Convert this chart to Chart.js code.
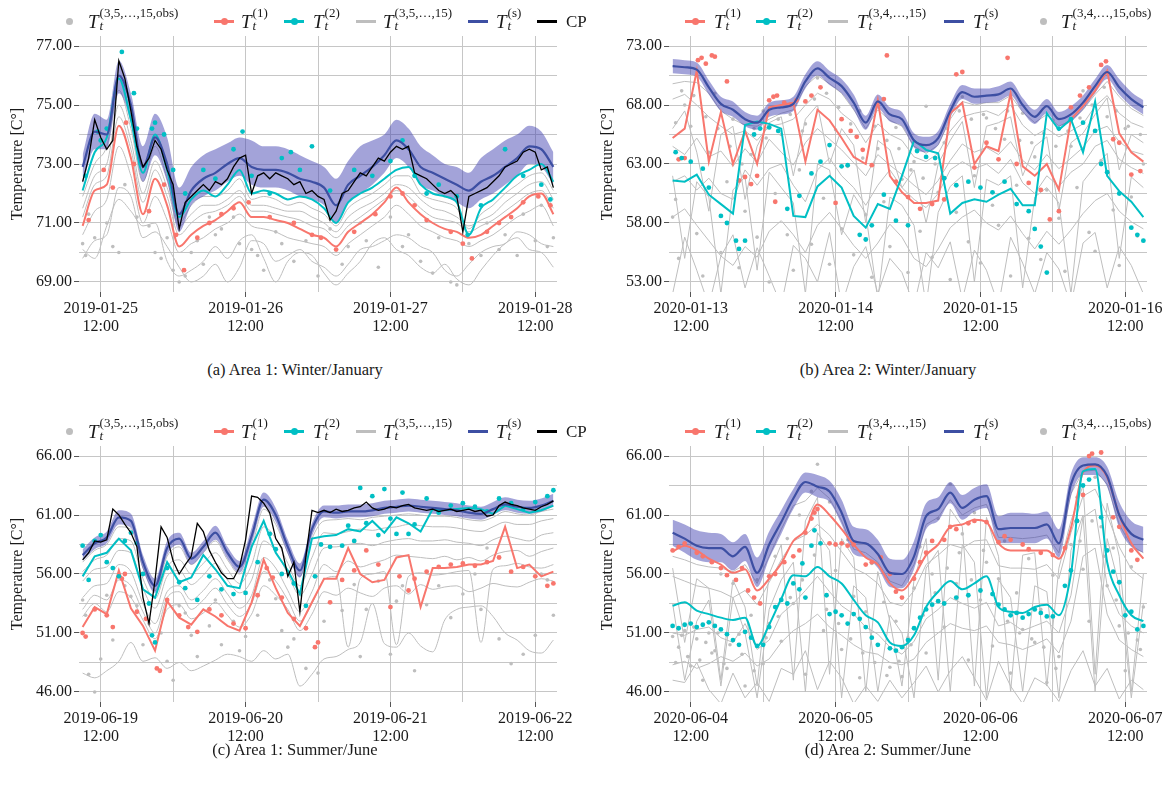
<!DOCTYPE html>
<html>
<head>
<meta charset="utf-8">
<script src="https://cdn.jsdelivr.net/npm/chart.js@4.4.1/dist/chart.umd.min.js"></script>
<style>
  html, body { margin: 0; padding: 0; background: #fff; }
  #page { position: relative; width: 1169px; height: 791px; overflow: hidden; font-family: 'Liberation Serif', 'DejaVu Serif', serif; color: #1a1a1a; }
  canvas { position: absolute; }
  .lg { position: absolute; height: 36px; z-index: 2; }
  .key { position: absolute; height: 3px; width: 20px; top: 20px; }
  .kdot { position: absolute; width: 7px; height: 7px; border-radius: 50%; top: 18px; }
  .lab { position: absolute; top: 6px; display: flex; align-items: flex-start; white-space: nowrap; }
  .lab .T { font-style: italic; font-size: 19px; line-height: 19px; margin-top: 6px; }
  .lab .st { display: flex; flex-direction: column; font-size: 13px; line-height: 13px; margin-left: 1px; }
  .lab .st i { font-size: 13px; }
  .lab .cp { font-size: 17px; line-height: 18px; margin-top: 7px; }
  .cap { position: absolute; font-size: 16.5px; line-height: 18px; text-align: center; width: 590px; }
</style>
</head>
<body>
<div id="page">
  <canvas id="cA" width="590" height="360" style="left:0;top:0"></canvas>
  <canvas id="cB" width="579" height="360" style="left:590px;top:0"></canvas>
  <canvas id="cC" width="590" height="360" style="left:0;top:410px"></canvas>
  <canvas id="cD" width="579" height="360" style="left:590px;top:410px"></canvas>
  <div class="lg" id="lgA" style="left:0;top:0"></div>
  <div class="lg" id="lgB" style="left:590px;top:0"></div>
  <div class="lg" id="lgC" style="left:0;top:410px"></div>
  <div class="lg" id="lgD" style="left:590px;top:410px"></div>
  <div class="cap" style="left:0;top:361px">(a) Area 1: Winter/January</div>
  <div class="cap" style="left:593px;top:361px">(b) Area 2: Winter/January</div>
  <div class="cap" style="left:0;top:741px">(c) Area 1: Summer/June</div>
  <div class="cap" style="left:593px;top:741px">(d) Area 2: Summer/June</div>
</div>
<script>
// hours since midnight of the first day shown in each panel
const HOURS = [9,11,13,15,17,19,21,23,25,27,29,31,33,35,37,39,41,43,45,47,49,51,53,55,57,59,61,63,65,67,69,71,73,75,77,79,81,83,85,87];
const HOURS_1H = [9,10,11,12,13,14,15,16,17,18,19,20,21,22,23,24,25,26,27,28,29,30,31,32,33,34,35,36,37,38,39,40,41,42,43,44,45,46,47,48,49,50,51,52,53,54,55,56,57,58,59,60,61,62,63,64,65,66,67,68,69,70,71,72,73,74,75,76,77,78,79,80,81,82,83,84,85,86,87];
const X_GRID = [12,24,36,48,60,72,84];
const TICK_HOURS = [12,36,60,84];

const A_DATES = ['2019-01-25','2019-01-26','2019-01-27','2019-01-28'];
const B_DATES = ['2020-01-13','2020-01-14','2020-01-15','2020-01-16'];
const C_DATES = ['2019-06-19','2019-06-20','2019-06-21','2019-06-22'];
const D_DATES = ['2020-06-04','2020-06-05','2020-06-06','2020-06-07'];

const A_YGRID = [69,70,71,72,73,74,75,76,77];
const A_YLABELS = [69,71,73,75,77];
const B_YGRID = [53,55.5,58,60.5,63,65.5,68,70.5,73];
const B_YLABELS = [53,58,63,68,73];
const CD_YGRID = [46,48.5,51,53.5,56,58.5,61,63.5,66];
const CD_YLABELS = [46,51,56,61,66];

// ---- (a) Area 1 winter ----
const A_CP = [72.4,73.2,74.5,73.9,73.5,73.8,76.5,75.9,74.8,73.6,72.9,73.2,73.8,73.5,72.8,72.3,70.8,71.7,71.9,72.1,72.3,72.1,72.4,72.3,72.5,72.9,73.2,73.3,72.0,72.6,72.7,72.5,72.7,72.6,72.5,72.3,72.4,72.0,72.1,71.9,71.8,71.1,71.4,72.0,72.1,72.4,72.7,72.6,72.9,73.2,73.1,73.4,73.6,73.5,73.6,72.7,72.6,72.5,72.3,72.1,72.0,72.1,71.9,70.7,71.9,72.0,72.1,72.2,72.4,72.6,72.9,73.0,73.1,73.4,73.5,73.4,72.8,72.9,72.2];
const A_TS = [72.9,74.1,74.0,76.0,75.0,72.9,73.9,73.0,71.3,72.1,72.5,72.7,73.0,73.2,72.9,72.8,72.8,72.7,72.5,72.4,72.2,71.6,72.3,72.6,72.9,73.3,73.8,73.5,72.9,72.7,72.5,72.3,72.1,72.4,72.6,72.9,73.2,73.6,73.5,72.9];
const A_HI = [73.3,74.7,74.5,76.5,75.4,73.6,74.7,73.9,72.2,72.9,73.3,73.5,73.7,73.9,73.8,73.6,73.6,73.5,73.3,73.1,72.9,72.5,73.1,73.6,73.8,74.0,74.5,74.2,73.6,73.3,73.0,72.9,72.7,73.2,73.5,73.8,74.0,74.3,74.1,73.4];
const A_LO = [72.3,73.5,73.5,75.4,74.4,72.4,73.3,72.4,70.7,71.6,71.9,72.1,72.4,72.6,72.3,72.2,72.2,72.1,71.9,71.8,71.6,71.0,71.7,72.0,72.3,72.7,73.2,72.9,72.3,72.1,71.9,71.7,71.5,71.8,72.0,72.3,72.6,73.0,72.9,72.3];
const A_T2 = [72.1,73.4,73.9,75.9,74.5,72.7,74.0,72.8,71.2,71.8,72.1,71.9,72.3,72.8,72.0,72.1,72.0,71.8,71.9,71.8,71.5,71.0,71.7,72.0,72.2,72.5,72.8,72.9,72.3,72.0,71.9,71.7,70.6,71.5,71.8,72.2,72.6,72.8,73.0,72.4];
const A_T1 = [70.9,72.1,72.3,74.3,73.2,71.3,72.5,71.6,70.2,70.6,70.9,71.1,71.4,71.7,71.2,71.2,71.1,71.0,70.8,70.6,70.5,70.2,70.7,71.0,71.3,71.7,72.2,71.7,71.3,71.0,70.8,70.7,70.5,70.6,70.9,71.2,71.5,71.9,72.0,71.3];
const A_GREY_LINES = [
  [71.9,73.0,73.6,75.5,74.2,72.4,73.6,72.5,71.0,71.6,71.9,71.9,72.1,72.5,71.8,71.9,71.8,71.6,71.7,71.5,71.3,70.9,71.5,71.8,72.0,72.3,72.6,72.6,72.0,71.8,71.7,71.5,70.8,71.3,71.6,72.0,72.3,72.6,72.7,72.1],
  [71.5,72.6,73.0,75.0,73.8,72.0,73.1,72.2,70.9,71.3,71.6,71.6,71.8,72.1,71.6,71.6,71.5,71.4,71.4,71.2,71.0,70.7,71.2,71.5,71.7,72.0,72.3,72.2,71.8,71.5,71.4,71.2,70.9,71.1,71.3,71.7,72.0,72.3,72.4,71.8],
  [71.2,72.3,72.6,74.6,73.5,71.7,72.8,71.9,70.6,71.0,71.3,71.4,71.6,71.9,71.4,71.4,71.3,71.2,71.1,70.9,70.8,70.5,70.9,71.2,71.5,71.8,72.1,71.9,71.5,71.2,71.1,71.0,70.7,70.9,71.1,71.4,71.7,72.0,72.1,71.5],
  [70.6,71.4,71.8,73.6,72.6,71.0,71.9,71.1,70.0,70.3,70.5,70.8,71.0,71.3,70.9,70.8,70.7,70.5,70.4,70.3,70.2,69.9,70.3,70.6,70.9,71.2,71.6,71.3,70.9,70.7,70.5,70.4,70.2,70.4,70.6,70.9,71.2,71.4,71.6,70.9],
  [70.1,69.8,70.9,71.8,71.4,70.9,71.0,69.7,69.2,69.4,69.7,70.2,69.8,70.4,70.6,69.8,69.0,69.7,70.0,69.9,69.3,68.9,69.3,69.7,70.3,70.5,70.1,69.9,69.5,69.3,69.6,69.1,68.9,69.4,69.9,70.3,70.5,70.1,70.0,69.5],
  [69.8,70.4,70.6,72.2,71.9,70.5,70.7,70.2,69.5,69.0,69.2,69.6,69.0,69.5,70.4,70.3,69.7,69.9,70.1,69.7,69.5,69.2,69.6,70.1,70.2,70.4,70.6,70.5,70.2,70.0,69.4,69.2,69.6,70.0,70.2,70.3,70.7,70.6,70.3,70.2]
];
const A_T1_OBS = [[10,71.1],[12.5,72.8],[14,72.2],[16.2,74.4],[17.5,73.0],[20,71.4],[22.5,72.3],[24.5,70.6],[25.8,69.4],[28,70.5],[30,71.0],[32,71.3],[34,71.5],[36.5,71.7],[40,71.2],[44,71.0],[47,70.6],[48.5,70.5],[51,70.1],[54,70.7],[57.5,71.3],[60,71.9],[62,72.0],[64,71.6],[66,71.1],[70,70.7],[72,70.3],[73.5,69.8],[76,70.7],[78,71.0],[80,71.2],[82,71.7],[84.5,71.9],[86.5,71.6]];
const A_T2_OBS = [[9.5,72.6],[11.5,74.1],[12,73.8],[13,74.2],[15.5,76.8],[17.5,75.4],[18,74.2],[20.5,74.2],[21,74.4],[22.5,74.0],[24,72.8],[26,72.0],[29,72.8],[31,72.5],[34,73.5],[35.5,74.1],[37,72.6],[40,72.0],[42,73.2],[43.5,73.4],[45,72.8],[47,73.6],[50,72.1],[54,72.8],[57,72.6],[60,73.1],[62,73.8],[64,72.6],[66,72.0],[68,72.3],[71,71.9],[72.8,70.6],[75,71.6],[79,73.5],[82,72.6],[85,72.3],[86.5,71.8]];
const A_GREY_OBS = [[9,70.3],[9.5,69.9],[10,71.3],[11,70.5],[13,71.0],[14,70.2],[15,70.0],[16,72.3],[18,71.2],[20,70.9],[21,70.0],[22,69.8],[23,70.5],[24,69.4],[25,69.0],[26,69.2],[27,70.0],[28,70.4],[29,69.6],[30,71.2],[31,70.6],[32,70.8],[34,71.2],[35,70.3],[37,70.1],[38,69.9],[39,69.4],[41,70.7],[42,70.3],[44,69.7],[46,70.4],[48,69.2],[50,70.8],[52,69.6],[53,70.2],[55,71.0],[56,70.4],[58,69.5],[60,71.2],[62,70.2],[63,70.6],[65,69.7],[67,69.3],[68,70.5],[70,69.0],[71,68.9],[73,70.3],[75,69.9],[76,71.0],[78,70.1],[79,70.6],[81,69.9],[82,71.3],[84,70.4],[85,71.6],[86,70.2],[87,70.5]];

// ---- (b) Area 2 winter ----
const B_TS = [71.3,71.2,71.0,69.5,68.1,67.6,66.8,66.5,67.6,67.8,68.1,70.0,71.1,70.3,69.6,68.2,66.5,68.3,67.2,66.8,65.0,64.6,65.2,67.5,69.1,68.7,68.8,68.9,69.4,68.0,67.0,67.9,66.8,67.2,68.2,69.6,70.8,69.5,68.5,67.8];
const B_HI = [71.9,71.8,71.6,70.1,68.7,68.3,67.4,67.1,68.2,68.4,68.7,70.6,71.7,70.9,70.2,68.9,67.1,68.9,67.8,67.4,65.6,65.3,65.8,68.1,69.7,69.4,69.4,69.6,70.0,68.6,67.6,68.5,67.4,67.9,68.8,70.2,71.4,70.2,69.1,68.4];
const B_LO = [70.7,70.6,70.4,68.9,67.5,67.0,66.2,65.9,67.0,67.2,67.5,69.4,70.5,69.7,69.0,67.6,65.9,67.7,66.6,66.2,64.4,64.0,64.6,66.9,68.5,68.1,68.2,68.3,68.8,67.4,66.4,67.3,66.2,66.6,67.6,69.0,70.2,68.9,67.9,67.2];
const B_T1 = [65.2,66.0,70.9,63.2,67.4,63.0,65.8,63.0,67.8,68.0,68.2,63.2,67.6,66.7,65.2,63.6,63.0,68.4,62.0,60.6,59.7,59.7,59.9,67.3,68.2,63.0,64.5,64.1,69.0,62.8,62.0,63.0,60.8,66.8,67.9,69.2,70.9,65.6,64.0,63.2];
const B_T2 = [61.6,61.5,62.1,60.4,59.6,58.8,66.3,66.6,66.4,66.0,58.6,58.5,61.1,62.0,61.0,58.6,57.6,59.6,59.2,62.0,65.0,64.2,63.9,58.8,59.7,60.0,59.8,60.4,60.9,59.5,59.5,67.3,65.9,66.8,64.0,68.3,62.0,60.7,59.8,58.5];
const B_GREY_LINES = [
  [69.8,70.0,69.9,69.0,67.5,66.8,66.3,66.2,66.8,67.3,67.6,69.6,70.5,69.8,69.0,67.6,66.0,67.6,66.7,66.2,64.5,63.9,64.6,66.8,68.3,68.0,68.2,68.2,68.8,67.4,66.5,67.2,66.2,66.7,67.6,68.9,70.0,68.7,67.7,67.1],
  [68.5,68.9,68.0,67.0,66.2,65.5,65.8,65.0,66.2,66.4,66.8,68.0,69.0,68.5,67.3,66.5,64.8,66.4,65.5,65.0,63.6,63.2,63.9,65.8,67.0,67.3,67.5,67.1,68.0,66.3,65.4,66.0,65.3,65.8,66.4,67.9,68.8,67.3,66.5,66.1],
  [64.5,63.8,65.2,63.6,64.1,62.8,64.3,63.1,65.1,64.0,62.9,64.8,66.0,65.1,64.2,63.1,62.0,63.8,62.9,62.1,61.2,60.4,61.6,63.3,64.7,64.0,64.4,63.8,64.9,63.3,62.5,63.8,62.6,63.5,64.4,65.8,66.2,64.9,64.1,63.8],
  [62.0,55.0,61.5,60.2,52.0,60.8,61.9,54.0,62.3,61.0,59.7,52.0,63.0,62.5,57.0,60.4,58.8,51.5,60.2,59.5,57.8,51.0,58.9,61.1,62.0,53.0,61.7,61.2,62.0,52.5,60.2,61.0,59.7,52.0,61.5,62.8,63.9,55.0,61.9,61.0],
  [58.5,59.2,57.8,56.5,55.2,54.4,56.0,55.1,57.3,58.2,57.0,55.5,57.8,58.9,57.5,56.1,55.0,56.3,57.9,56.8,55.0,54.3,55.8,57.6,58.5,59.1,58.0,57.4,58.6,57.1,55.8,57.3,56.2,57.4,58.8,59.9,60.5,59.0,58.1,57.5],
  [52.0,56.8,54.0,51.0,55.2,57.0,52.5,55.9,53.5,51.0,56.1,55.0,53.0,57.2,51.0,54.3,56.0,52.0,55.0,53.8,51.0,55.5,54.2,56.4,51.5,55.7,54.0,51.0,56.8,54.6,52.0,55.5,54.1,51.0,56.3,57.2,52.5,56.0,54.4,52.0],
  [61.5,62.0,60.8,61.8,60.5,60.0,62.5,61.2,62.6,63.0,61.2,59.8,62.5,63.5,62.0,61.0,59.5,61.2,62.5,61.0,60.0,59.3,60.5,62.5,63.2,62.6,63.0,62.2,63.4,61.4,60.5,62.0,61.1,62.3,63.0,64.5,65.0,63.4,62.7,62.2],
  [66.0,67.5,64.0,59.0,65.5,66.2,60.0,64.5,66.5,67.0,62.0,66.8,68.0,63.0,66.0,64.6,58.0,65.0,64.2,61.0,62.5,58.0,63.0,65.0,66.6,61.0,66.2,66.5,67.0,62.0,64.5,65.3,59.0,64.8,65.6,67.2,68.6,62.5,65.5,64.8]
];
const B_T1_OBS = [[10,63.4],[11,63.5],[13.2,71.8],[13.8,72.0],[14.5,71.5],[15.5,72.2],[16,72.1],[18,70.0],[20,61.6],[21,61.9],[22,61.3],[23,62.0],[25,68.4],[25.7,68.7],[26.3,68.8],[27.5,68.2],[28.5,68.0],[29.5,68.4],[31,68.3],[32,68.8],[26,59.8],[33.5,69.5],[36,59.7],[37,66.8],[38.5,65.8],[39.5,65.3],[40.5,64.2],[42,62.9],[44,68.5],[44.5,72.2],[46,61.5],[48,60.2],[50,59.2],[52,59.6],[54,60.0],[56,70.6],[57,70.8],[59,62.7],[61,64.8],[63,63.4],[64.5,72.0],[66,63.0],[68,61.4],[70,60.8],[71.5,58.3],[73,59.0],[75,67.8],[76.5,68.8],[78,69.5],[80,71.4],[80.8,71.7],[82,65.1],[83,64.8],[85,62.1],[86.5,62.4]];
const B_T2_OBS = [[9.5,64.0],[10.5,63.5],[12,63.2],[14,62.6],[15,61.0],[17,58.6],[18,58.0],[19.5,56.5],[20,55.8],[21,56.5],[22.5,65.5],[23.5,66.0],[25,66.1],[26.5,65.8],[28,59.2],[30,60.3],[32,62.2],[33.5,63.2],[35,64.6],[37,62.8],[38,62.9],[40,57.0],[41,56.6],[42,57.8],[44,60.4],[46,58.2],[48,57.8],[49.5,64.1],[51,63.6],[52.5,63.5],[54,61.8],[56,61.2],[58,61.5],[60,61.0],[62,60.6],[64,61.5],[66,59.6],[68,59.0],[69,57.5],[70,56.0],[71,53.8],[73,66.0],[75,66.8],[77,66.5],[79,65.8],[80,63.0],[81,62.3],[83,60.5],[85,57.6],[86,57.0],[87,56.5]];
const B_GREY_OBS = [[9,58.5],[9.5,60.0],[10,55.0],[11,68.0],[12,66.2],[13,57.1],[14,53.5],[15,64.0],[16,69.0],[17,55.5],[18,61.5],[19,66.8],[20,54.2],[21,59.0],[22,63.8],[23,56.8],[24,67.5],[25,53.0],[26,60.5],[27,65.5],[28,57.0],[29,54.0],[30,62.5],[31,66.4],[32,56.2],[33,70.3],[34,60.1],[35,54.5],[36,65.9],[37,57.5],[38,62.8],[39,55.3],[40,67.5],[41,58.7],[42,53.4],[43,64.3],[44,59.8],[45,56.0],[46,66.1],[47,61.7],[48,53.8],[49,63.2],[50,57.3],[51,67.9],[52,55.1],[53,60.6],[54,64.8],[55,53.2],[56,58.9],[57,68.7],[58,56.4],[59,62.0],[60,54.6],[61,66.9],[62,59.5],[63,57.8],[64,65.1],[65,53.5],[66,61.2],[67,67.3],[68,56.7],[69,63.6],[70,54.9],[71,60.8],[72,66.7],[73,58.4],[74,53.9],[75,64.5],[76,61.0],[77,69.2],[78,57.2],[79,55.6],[80,63.3],[81,67.0],[82,59.1],[83,54.4],[84,66.0],[85,60.2],[86,56.9],[87,63.0],
  [9.5,66.5],[10.5,69.2],[12.5,68.8],[14.5,67.0],[16.5,66.0],[18.5,64.5],[20.5,63.0],[22.5,66.0],[24.5,65.2],[26.5,66.8],[28.5,67.2],[30.5,65.8],[32.5,68.5],[34.5,69.0],[36.5,67.8],[38.5,66.4],[40.5,63.5],[42.5,66.2],[44.5,65.0],[46.5,64.3],[48.5,62.5],[50.5,61.8],[52.5,63.0],[54.5,66.0],[56.5,67.5],[58.5,66.8],[60.5,67.2],[62.5,66.0],[64.5,67.5],[66.5,65.0],[68.5,64.8],[70.5,65.6],[72.5,64.5],[74.5,65.8],[76.5,66.9],[78.5,68.0],[80.5,69.5],[82.5,67.5],[84.5,66.2],[86.5,65.5]];

// ---- (c) Area 1 summer ----
const C_CP = [57.2,57.8,58.8,58.7,58.9,61.5,61.0,60.2,59.5,58.3,54.0,51.8,55.5,60.0,59.1,57.1,56.0,56.8,57.5,60.3,59.6,58.0,57.0,56.1,55.6,55.6,56.6,58.9,62.6,62.5,62.0,61.2,59.0,58.2,55.8,57.0,52.8,57.5,61.4,61.2,61.4,61.2,61.5,61.3,61.4,61.6,61.7,62.1,61.6,61.4,61.5,61.7,61.6,61.8,61.9,61.6,61.5,61.4,61.5,61.3,61.4,61.5,61.3,61.4,61.5,61.3,61.4,60.9,61.0,61.8,62.1,61.9,61.8,61.6,61.5,61.4,61.7,61.9,62.2];
const C_TS = [57.6,58.6,59.1,60.8,60.5,57.0,55.0,58.2,59.0,57.3,58.3,59.5,57.8,56.6,59.2,62.3,61.0,58.3,56.3,59.8,61.3,61.2,61.3,61.3,61.4,61.6,61.7,61.8,61.7,61.6,61.5,61.4,61.2,61.1,61.5,61.9,61.7,61.6,61.8,62.2];
const C_HI = [58.1,59.1,59.6,61.4,61.1,57.6,55.6,58.8,59.5,57.8,58.8,60.1,58.3,57.1,59.9,62.9,61.6,58.9,56.9,60.3,61.8,61.8,61.9,61.9,62.0,62.2,62.3,62.4,62.3,62.2,62.1,62.0,61.8,61.7,62.1,62.5,62.3,62.2,62.4,62.8];
const C_LO = [57.1,58.1,58.6,60.2,59.9,56.4,54.4,57.6,58.5,56.8,57.8,58.9,57.3,56.1,58.5,61.7,60.4,57.7,55.7,59.2,60.8,60.7,60.8,60.8,60.9,61.1,61.2,61.3,61.2,61.1,61.0,60.9,60.7,60.6,61.0,61.4,61.2,61.1,61.3,61.7];
const C_T2 = [55.8,57.5,57.8,59.0,58.0,54.7,54.0,57.0,55.3,55.7,57.6,56.4,55.0,54.8,58.3,60.5,57.8,56.3,54.3,59.0,59.2,59.3,59.8,59.6,60.5,59.5,60.8,60.3,59.6,61.5,61.4,61.5,61.6,61.5,61.1,61.8,61.5,61.2,61.4,61.8];
const C_T1 = [51.5,53.2,52.6,56.3,53.1,51.6,49.5,53.7,52.3,51.7,53.0,52.4,51.6,51.2,53.6,57.2,54.8,52.7,51.6,53.6,55.6,55.6,58.2,56.0,55.3,55.5,57.4,57.6,53.2,56.5,56.5,56.6,56.8,56.8,57.1,60.0,56.5,56.8,55.8,56.2];
const C_GREY_LINES = [
  [57.0,58.0,58.5,60.0,59.8,56.5,54.6,57.5,58.3,56.8,57.8,58.8,57.2,56.0,58.2,61.5,60.2,57.8,55.8,59.0,60.5,60.6,60.7,60.6,60.8,60.9,61.0,61.1,61.0,60.9,60.9,60.8,60.6,60.5,60.8,61.3,61.1,61.0,61.3,61.5],
  [56.2,57.2,57.6,59.0,58.8,55.6,53.9,56.6,57.2,56.0,56.9,57.8,56.4,55.2,56.8,60.0,59.0,56.9,55.0,57.4,59.5,59.4,59.6,59.8,59.7,59.9,60.0,60.2,60.1,60.0,60.0,59.9,59.7,59.6,60.0,60.4,60.2,60.2,60.5,60.7],
  [55.4,56.4,56.6,58.0,57.8,54.8,53.1,55.8,56.3,55.1,55.9,56.9,55.5,54.4,55.5,58.8,57.9,56.0,54.2,56.0,58.2,58.3,58.5,58.6,58.4,58.7,58.9,59.0,58.8,58.8,58.9,58.7,58.6,58.4,58.9,59.2,59.0,58.8,59.3,59.5],
  [54.0,55.0,55.2,56.8,56.2,53.5,51.8,54.5,55.0,53.8,54.6,55.6,54.3,53.1,54.2,57.4,56.5,54.6,52.8,54.5,56.8,56.2,57.1,56.6,56.9,57.2,57.6,57.5,57.4,57.3,57.5,57.2,57.4,57.1,57.6,57.9,58.0,57.5,57.9,58.2],
  [52.4,53.5,52.8,54.5,54.0,52.1,50.5,53.0,53.4,52.2,52.7,53.6,52.5,51.5,52.6,55.0,54.2,53.0,51.2,52.6,54.5,54.2,54.8,54.4,54.1,54.8,55.0,54.3,55.1,54.7,54.9,55.0,54.5,54.8,55.2,55.0,54.9,55.3,55.6,55.4],
  [47.6,47.2,47.8,48.6,50.2,48.6,48.9,48.0,48.5,47.8,48.2,48.7,49.2,49.0,48.6,49.5,48.8,49.2,46.5,47.5,48.8,49.0,49.6,50.2,53.5,50.1,49.8,51.0,49.9,49.4,52.1,53.0,53.2,53.3,52.4,51.0,50.4,49.5,49.3,50.4],
  [53.0,54.2,53.8,55.5,55.0,52.8,51.0,54.0,54.5,53.0,53.8,54.8,53.4,52.4,53.5,56.2,55.4,53.8,52.0,53.5,55.5,55.8,49.8,55.6,56.0,56.2,50.0,55.8,56.1,55.9,56.0,56.2,56.3,50.2,56.4,56.7,56.9,56.6,56.5,56.8]
];
const C_T1_OBS = [[9,51.0],[9.5,50.7],[11,53.0],[13,52.5],[14,51.5],[15.5,55.6],[16,56.0],[18,52.8],[19.5,52.2],[21.3,48.0],[21.8,47.8],[23,53.8],[25,52.5],[26.5,51.5],[28,51.1],[30,53.0],[32,52.5],[34,51.8],[36,51.4],[38,54.2],[39.5,56.5],[40.5,55.7],[42,54.0],[44,52.2],[46,51.4],[47.5,49.8],[48,50.2],[50,53.6],[52,55.5],[54,56.3],[56,58.0],[58,56.8],[60,53.2],[61.5,55.8],[63,54.6],[64,55.6],[66,56.2],[68,56.6],[70,56.8],[72,56.9],[74,56.7],[76,57.0],[78,57.4],[80,56.2],[82,56.6],[84,55.8],[86,55.0],[87,55.2]];
const C_T2_OBS = [[9,58.4],[10,55.5],[11,58.8],[12,59.3],[13,57.0],[14,56.5],[15,55.8],[16,58.8],[17,59.5],[18,58.6],[19,56.0],[20,53.5],[20.5,50.8],[21,50.2],[23,56.5],[25,55.3],[26,54.8],[28,53.8],[30,55.8],[32,54.7],[34,54.3],[36,54.4],[38,57.0],[40,59.4],[41,58.1],[42,56.0],[44,55.2],[46,53.3],[47.5,55.8],[48.5,58.5],[50,58.3],[52,58.4],[53,60.1],[54,58.8],[55,63.3],[56,60.3],[57,62.6],[58,59.3],[59,63.2],[60,60.7],[61,59.4],[62,62.9],[63,59.4],[64,60.2],[66,62.4],[68,61.2],[70,61.8],[72,62.0],[74,61.7],[76,61.3],[78,62.4],[80,62.0],[82,61.5],[84,62.1],[86,62.6],[87,63.1]];
const C_GREY_OBS = [[9,53.8],[9.5,52.5],[10,47.5],[11,46.0],[12,48.8],[13,54.2],[14,50.4],[16,55.0],[17,54.1],[18,53.3],[19,50.0],[20,51.8],[22,51.0],[23,48.6],[24,47.0],[25,53.3],[26,52.7],[27,50.8],[28,49.0],[30,51.6],[31,53.8],[32,50.0],[34,52.0],[35,49.5],[36,50.7],[38,52.5],[40,55.5],[41,53.9],[42,51.2],[43,49.8],[44,50.5],[46,48.0],[48,47.6],[49,52.0],[50,53.6],[52,52.9],[54,55.1],[55,49.0],[56,53.0],[58,55.4],[60,49.2],[61,53.7],[62,55.0],[64,47.8],[66,53.4],[68,55.0],[70,52.3],[72,54.3],[74,56.0],[75,53.0],[76,58.2],[78,50.5],[80,48.4],[82,49.2],[84,50.8],[85,56.0],[86,55.5],[87,52.5]];

// ---- (d) Area 2 summer ----
const D_TS = [59.5,59.0,58.4,58.2,58.2,57.5,58.3,56.1,58.5,60.4,62.4,63.8,63.4,63.0,61.2,58.8,58.6,57.7,56.1,56.0,57.5,60.9,61.5,62.9,61.6,62.3,62.6,59.8,59.9,59.9,59.9,60.2,58.6,63.6,65.2,65.3,64.3,61.0,59.4,58.9];
const D_HI = [60.6,60.2,59.7,59.5,59.4,58.7,59.4,57.4,59.6,61.4,63.2,64.6,64.4,63.9,62.3,60.0,59.8,58.9,57.3,57.2,58.8,62.0,62.5,63.8,62.7,63.3,63.6,60.9,61.2,61.2,61.1,61.3,59.8,64.5,65.9,65.9,65.1,62.1,60.5,60.0];
const D_LO = [58.4,57.8,57.2,57.0,57.0,56.3,57.1,54.9,57.3,59.4,61.5,62.9,62.5,62.1,60.2,57.7,57.4,56.5,54.9,54.8,56.4,59.8,60.5,62.0,60.6,61.3,61.6,58.6,58.6,58.6,58.6,59.0,57.4,62.6,64.4,64.4,63.4,59.9,58.3,57.8];
const D_T1 = [57.9,58.4,58.0,57.3,56.8,56.1,56.4,54.6,55.6,56.9,58.8,59.7,61.9,61.0,59.8,58.5,57.4,56.8,55.2,54.6,55.8,57.6,58.5,60.0,60.2,60.6,60.4,58.6,58.0,58.0,58.0,58.0,57.3,59.9,64.6,65.2,64.2,61.0,58.6,57.3];
const D_T2 = [53.3,53.6,52.9,52.6,52.3,52.1,52.3,49.9,51.7,53.9,55.9,55.8,56.6,55.8,55.2,53.8,52.5,51.9,50.2,49.9,50.8,53.2,54.5,55.4,54.7,55.2,55.8,53.2,52.8,52.7,53.2,53.4,52.5,56.0,64.7,64.9,57.0,54.2,52.5,52.0];
const D_GREY_LINES = [
  [57.5,57.2,56.8,56.6,56.5,56.2,56.8,55.2,57.5,59.8,61.8,62.2,63.3,62.4,60.5,58.1,57.8,57.0,55.4,55.0,56.8,60.2,60.8,62.3,61.0,61.6,61.9,59.1,59.1,59.0,59.1,59.3,57.8,62.8,64.7,64.8,63.6,60.2,58.4,57.8],
  [55.8,55.4,55.0,54.8,54.5,54.0,54.6,53.4,55.3,57.2,58.8,59.3,60.2,59.3,57.9,56.5,56.0,55.2,53.6,53.3,54.6,56.8,57.6,58.5,58.2,58.8,58.9,56.7,56.5,56.5,56.4,56.8,55.6,59.5,62.6,63.2,61.0,58.3,56.4,55.6],
  [51.0,50.8,51.3,51.5,50.6,50.2,51.8,49.6,50.4,52.6,53.5,54.6,55.8,54.5,53.3,52.6,51.5,50.9,49.8,49.2,50.3,52.2,53.0,54.0,53.5,53.1,53.6,51.6,51.9,51.2,51.6,52.0,51.0,54.2,60.8,61.5,55.0,52.6,51.6,51.0],
  [48.3,48.6,48.0,48.4,49.0,48.6,49.3,48.2,48.8,50.2,51.2,51.8,52.6,51.5,50.8,50.0,49.4,49.2,48.5,48.3,48.8,50.2,51.0,51.8,51.4,51.2,51.6,50.2,50.0,49.6,50.0,50.5,49.3,52.0,57.5,58.2,52.6,50.4,49.6,49.0],
  [56.5,50.2,55.6,54.8,47.0,55.5,53.2,46.5,56.0,58.5,47.0,60.5,62.5,47.5,59.0,57.4,46.0,56.2,52.0,46.5,55.5,59.0,47.0,61.5,60.0,46.5,60.8,57.5,46.0,57.6,57.8,46.5,56.5,60.5,63.5,47.5,62.0,57.5,46.0,56.0],
  [47.0,46.8,48.5,46.2,45.0,47.6,45.5,46.8,45.2,48.0,47.5,49.5,46.2,48.6,47.2,45.0,46.5,45.2,47.0,45.5,46.8,48.2,46.0,47.8,49.0,47.2,45.3,48.6,46.5,45.0,47.2,46.6,45.2,47.8,49.5,46.5,48.0,45.4,47.0,46.2],
  [53.5,47.0,52.0,53.8,46.5,54.0,51.0,45.5,53.0,55.5,57.0,46.0,59.5,58.0,45.5,55.0,54.0,46.0,52.5,51.0,45.5,56.5,58.0,46.0,58.5,57.0,45.5,55.5,54.0,46.0,55.0,54.5,45.5,58.0,61.0,46.0,59.0,55.0,45.5,53.5]
];
const D_T1_OBS = [[9,58.0],[10,58.3],[11,58.6],[13,57.8],[14,57.5],[15.5,57.0],[17,56.5],[18,55.9],[19.5,55.5],[20.5,56.5],[21.5,54.6],[22.5,54.0],[23.5,53.5],[25,55.8],[26,56.0],[27.5,57.0],[29,57.5],[30,58.0],[31,59.5],[32,60.7],[32.5,61.2],[33,61.5],[35,58.6],[36,58.5],[37,58.6],[38,58.4],[39,58.5],[41,56.8],[42,57.0],[43.5,57.4],[45,56.0],[46,54.5],[47,54.0],[49,55.6],[50,57.0],[51,57.8],[52,58.8],[54,58.9],[55,60.0],[56,59.8],[58,60.3],[59,60.5],[61,60.4],[63,58.7],[64,59.2],[65,58.9],[67,58.5],[68,58.1],[70,57.8],[72,57.6],[74,58.2],[76,60.5],[77,62.7],[78,66.0],[78.5,66.2],[80,66.3],[82,60.8],[83,60.0],[85,58.0],[86,57.2]];
const D_T2_OBS = [[9,51.6],[10,51.4],[11,51.7],[12,51.8],[13,51.5],[14,51.7],[15,51.9],[16,51.6],[17,51.3],[18,50.9],[19,50.4],[20,50.0],[21,51.1],[22,50.6],[23,49.9],[24,50.0],[25,51.5],[26,53.2],[27,53.8],[28,53.5],[29,55.2],[30,54.7],[30.5,56.9],[31,54.0],[32,58.4],[32.5,59.7],[33.5,58.6],[34.5,54.2],[35,52.6],[36,52.8],[37,52.5],[38,51.8],[39,52.6],[40,52.2],[41,51.5],[42,50.6],[43,50.0],[45,49.7],[46,49.5],[47,49.8],[48,50.4],[49,51.4],[50,52.3],[51,53.0],[52,53.4],[53,53.7],[54,53.5],[56,54.0],[58,54.2],[60,54.6],[62,54.3],[63,53.4],[64,53.0],[65,52.5],[66,52.7],[67,52.3],[68,52.6],[69,53.0],[70,52.7],[71,52.4],[72,52.4],[74,55.0],[75,56.3],[76,60.5],[77,63.5],[78,64.0],[80,60.8],[81,58.0],[82,56.2],[83,55.3],[84,52.5],[85,52.8],[86,51.3],[87,51.6]];
const D_GREY_OBS = [[9,50.7],[10,49.8],[11,51.2],[12,48.2],[13,50.5],[14,47.0],[15,51.0],[16,49.5],[17,56.0],[18,48.0],[19,55.2],[20,50.9],[21,46.5],[22,52.5],[23,55.5],[24,48.4],[25,51.8],[26,57.5],[27,50.3],[28,59.0],[29,53.5],[30,61.0],[31,47.5],[32,63.0],[33,65.3],[34,51.2],[35,62.1],[36,56.3],[37,49.6],[38,58.9],[39,54.1],[40,47.2],[41,52.8],[42,56.9],[43,50.0],[44,53.6],[45,48.1],[46,52.0],[47,47.3],[48,50.6],[49,54.8],[50,58.3],[51,49.3],[52,56.0],[53,60.7],[54,51.5],[55,63.6],[56,55.2],[57,59.4],[58,48.7],[59,61.2],[60,53.8],[61,57.0],[62,49.9],[63,55.6],[64,58.8],[65,47.6],[66,54.4],[67,51.3],[68,57.3],[69,50.2],[70,53.0],[71,46.8],[72,55.9],[73,49.0],[75,58.5],[76,62.5],[77,56.4],[78,52.0],[79,64.2],[80,60.0],[81,55.0],[82,58.2],[83,51.6],[84,47.8],[85,56.6],[86,50.4],[87,53.2],
  [9.5,48.5],[10.5,50.8],[11.5,49.0],[12.5,51.5],[13.5,48.7],[14.5,50.2],[15.5,49.3],[16.5,51.0],[17.5,48.4],[18.5,50.0],[20.5,49.2],[22.5,47.8],[24.5,50.6],[26.5,52.4],[28.5,54.0],[30.5,55.5],[32.5,57.6],[34.5,53.0],[36.5,51.8],[38.5,50.5],[40.5,49.3],[42.5,48.5],[44.5,47.4],[46.5,48.6],[48.5,50.0],[50.5,52.5],[52.5,54.4],[54.5,56.5],[56.5,57.8],[58.5,55.5],[60.5,58.0],[62.5,53.5],[64.5,52.0],[66.5,51.0],[68.5,50.5],[70.5,49.8],[72.5,48.0],[76.5,58.8],[78.5,60.5],[80.5,57.5],[82.5,53.8],[84.5,51.0],[86.5,49.6]];

// ---------------------------------------------------------------------
const GREY = '#BEBEBE', RED = '#F8766D', TEAL = '#00BFC4', BLUE = '#3D4FA3';
const BAND = 'rgba(62,62,175,0.48)';
const GRID = '#C6C6C6', TICKC = '#555', TXT = '#1a1a1a';
const FONT = "'Liberation Serif', 'DejaVu Serif', serif";

function pts(vals, hours) { return vals.map((v, i) => ({ x: hours[i], y: v })); }
function obs(pairs) { return pairs.map(p => ({ x: p[0], y: p[1] })); }
function line(vals, color, w, smooth, hours) {
  return {
    data: pts(vals, hours || HOURS), borderColor: color, borderWidth: w, pointRadius: 0, fill: false,
    cubicInterpolationMode: smooth ? 'monotone' : 'default'
  };
}
function dots(pairs, color, r) {
  return { data: obs(pairs), showLine: false, pointRadius: r, pointBackgroundColor: color, pointBorderWidth: 0, borderColor: color };
}

function drawPanel(id, p) {
  const sm = p.smooth;
  // first dataset is drawn on top
  const ds = [];
  if (p.cp) ds.push(line(p.cp, '#000', 1.3, false, HOURS_1H));
  ds.push(line(p.ts, BLUE, 2.2, true));
  ds.push(dots(p.t2Obs, TEAL, 2.4));
  ds.push(line(p.t2, TEAL, 2, sm.t2));
  ds.push(dots(p.t1Obs, RED, 2.4));
  ds.push(line(p.t1, RED, 2, sm.t1));
  ds.push({ data: pts(p.hi, HOURS), borderWidth: 0, borderColor: 'rgba(0,0,0,0)', pointRadius: 0, backgroundColor: BAND, fill: '+1', cubicInterpolationMode: 'monotone' });
  ds.push({ data: pts(p.lo, HOURS), borderWidth: 0, borderColor: 'rgba(0,0,0,0)', pointRadius: 0, fill: false, cubicInterpolationMode: 'monotone' });
  ds.push(dots(p.greyObs, GREY, 1.8));
  p.greys.forEach(g => ds.push(line(g, GREY, 1, sm.grey)));

  new Chart(document.getElementById(id), {
    type: 'line',
    data: { datasets: ds },
    options: {
      responsive: false,
      animation: false,
      devicePixelRatio: 1,
      layout: { autoPadding: false, padding: { left: 0, top: 36, right: p.padR, bottom: 8 } },
      plugins: { legend: { display: false }, tooltip: { enabled: false } },
      elements: { line: { tension: 0 } },
      scales: {
        x: {
          type: 'linear', min: 8.4, max: 87.6,
          afterBuildTicks: s => { s.ticks = X_GRID.map(v => ({ value: v })); },
          afterFit: s => { s.height = 60; },
          border: { display: false },
          grid: {
            color: GRID, lineWidth: 1, tickLength: 5,
            tickColor: c => (c.tick && TICK_HOURS.includes(c.tick.value)) ? TICKC : 'rgba(0,0,0,0)'
          },
          ticks: {
            autoSkip: false, maxRotation: 0, padding: 3, color: TXT,
            font: { family: FONT, size: 16, lineHeight: 1.1 },
            callback: v => { const i = TICK_HOURS.indexOf(v); return i < 0 ? '' : [p.dates[i], '12:00']; }
          }
        },
        y: {
          min: p.yMin, max: p.yMax,
          afterBuildTicks: s => { s.ticks = p.yGrid.map(v => ({ value: v })); },
          afterFit: s => { s.width = 79; },
          border: { display: false },
          grid: {
            color: GRID, lineWidth: 1, tickLength: 5,
            tickColor: c => (c.tick && p.yLabels.includes(c.tick.value)) ? TICKC : 'rgba(0,0,0,0)'
          },
          ticks: {
            padding: 2, color: TXT, font: { family: FONT, size: 16 },
            callback: v => p.yLabels.includes(v) ? v.toFixed(2) : ''
          },
          title: {
            display: true, text: 'Temperature [C°]', color: TXT,
            font: { family: FONT, size: 16 }, padding: { top: 8, bottom: 0 }
          }
        }
      }
    }
  });
}

drawPanel('cA', { dates: A_DATES, yMin: 68.66, yMax: 77.34, yGrid: A_YGRID, yLabels: A_YLABELS, padR: 33,
  smooth: { t1: true, t2: true, grey: true },
  cp: A_CP, ts: A_TS, hi: A_HI, lo: A_LO, t1: A_T1, t2: A_T2, greys: A_GREY_LINES,
  t1Obs: A_T1_OBS, t2Obs: A_T2_OBS, greyObs: A_GREY_OBS });
drawPanel('cB', { dates: B_DATES, yMin: 52.15, yMax: 73.85, yGrid: B_YGRID, yLabels: B_YLABELS, padR: 22,
  smooth: { t1: false, t2: false, grey: false },
  ts: B_TS, hi: B_HI, lo: B_LO, t1: B_T1, t2: B_T2, greys: B_GREY_LINES,
  t1Obs: B_T1_OBS, t2Obs: B_T2_OBS, greyObs: B_GREY_OBS });
drawPanel('cC', { dates: C_DATES, yMin: 45.15, yMax: 66.85, yGrid: CD_YGRID, yLabels: CD_YLABELS, padR: 33,
  smooth: { t1: false, t2: false, grey: true },
  cp: C_CP, ts: C_TS, hi: C_HI, lo: C_LO, t1: C_T1, t2: C_T2, greys: C_GREY_LINES,
  t1Obs: C_T1_OBS, t2Obs: C_T2_OBS, greyObs: C_GREY_OBS });
drawPanel('cD', { dates: D_DATES, yMin: 45.15, yMax: 66.85, yGrid: CD_YGRID, yLabels: CD_YLABELS, padR: 22,
  smooth: { t1: true, t2: true, grey: false },
  ts: D_TS, hi: D_HI, lo: D_LO, t1: D_T1, t2: D_T2, greys: D_GREY_LINES,
  t1Obs: D_T1_OBS, t2Obs: D_T2_OBS, greyObs: D_GREY_OBS });

// ---- legends (math labels as HTML) ----
const LEGEND_A = [
  { kind: 'dot', color: GREY, x: 66, lx: 88, sup: '(3,5,…,15,obs)' },
  { kind: 'linedot', color: RED, x: 214, lx: 241, sup: '(1)' },
  { kind: 'linedot', color: TEAL, x: 284, lx: 313, sup: '(2)' },
  { kind: 'line', color: GREY, x: 356, lx: 383, sup: '(3,5,…,15)' },
  { kind: 'line', color: BLUE, x: 468, lx: 496, sup: '(s)' },
  { kind: 'line', color: '#000', x: 537, lx: 566, text: 'CP' }
];
const LEGEND_B = [
  { kind: 'linedot', color: RED, x: 95, lx: 124, sup: '(1)' },
  { kind: 'linedot', color: TEAL, x: 166, lx: 196, sup: '(2)' },
  { kind: 'line', color: GREY, x: 238, lx: 267, sup: '(3,4,…,15)' },
  { kind: 'line', color: BLUE, x: 354, lx: 383, sup: '(s)' },
  { kind: 'dot', color: GREY, x: 450, lx: 471, sup: '(3,4,…,15,obs)' }
];

function buildLegend(el, items) {
  el.innerHTML = items.map(it => {
    let key = '';
    if (it.kind === 'dot') key = `<div class="kdot" style="left:${it.x}px;background:${it.color}"></div>`;
    else {
      key = `<div class="key" style="left:${it.x}px;background:${it.color}"></div>`;
      if (it.kind === 'linedot') key += `<div class="kdot" style="left:${it.x + 6.5}px;background:${it.color}"></div>`;
    }
    const lab = it.text
      ? `<div class="lab" style="left:${it.lx}px"><span class="cp">${it.text}</span></div>`
      : `<div class="lab" style="left:${it.lx}px"><span class="T">T</span><span class="st"><span>${it.sup}</span><span><i>t</i></span></span></div>`;
    return key + lab;
  }).join('');
}
buildLegend(document.getElementById('lgA'), LEGEND_A);
buildLegend(document.getElementById('lgB'), LEGEND_B);
buildLegend(document.getElementById('lgC'), LEGEND_A);
buildLegend(document.getElementById('lgD'), LEGEND_B);
</script>
</body>
</html>
